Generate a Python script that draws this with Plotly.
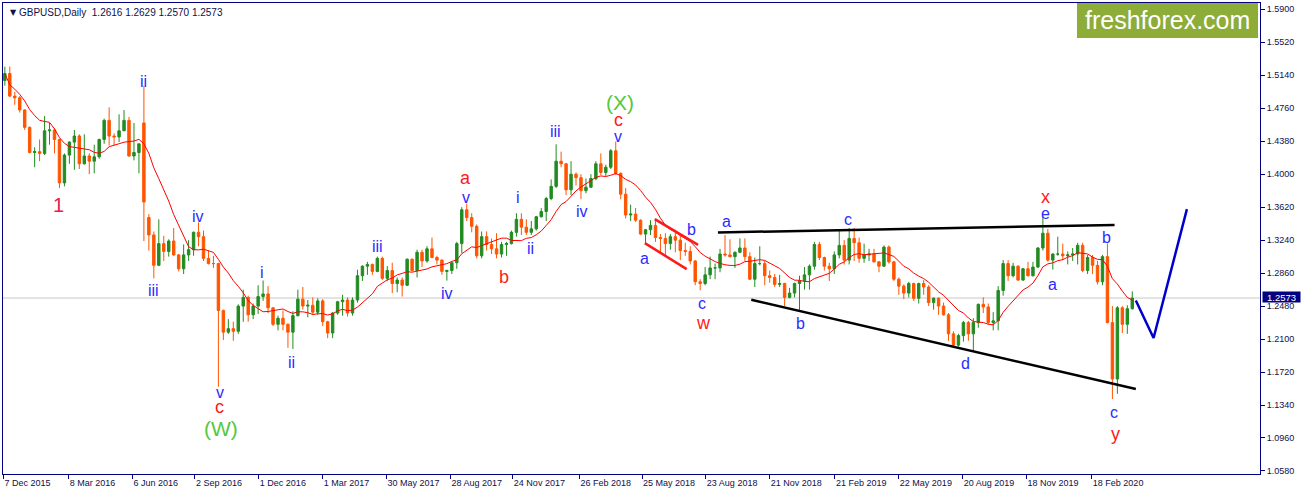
import plotly.graph_objects as go
import pandas as pd

# ---------------- data (weekly OHLC) ----------------
week_start = "2015-12-09"
opens = [1.5080,1.5160,1.4900,1.4880,1.4740,1.4540,1.4250,1.4260,1.4240,1.4500,1.4510,1.4400,
         1.3900,1.4220,1.4370,1.4440,1.4120,1.4210,1.4150,1.4200,1.4400,1.4620,1.4440,1.4430,
         1.4500,1.4620,1.4210,1.4250,1.4590,1.3500,1.3300,1.2950,1.3200,1.3110,1.3230,1.3070,
         1.2910,1.3070,1.3130,1.3330,1.3280,1.3030,1.2970,1.2970,1.2430,1.2180,1.2220,1.2190,
         1.2480,1.2580,1.2380,1.2480,1.2590,1.2620,1.2460,1.2270,1.2340,1.2270,1.2180,1.2370,
         1.2560,1.2480,1.2490,1.2410,1.2540,1.2300,1.2170,1.2400,1.2530,1.2550,1.2400,1.2550,
         1.2830,1.2940,1.2960,1.2880,1.3030,1.2800,1.2890,1.2740,1.2780,1.2720,1.3020,1.2890,
         1.3100,1.3000,1.3140,1.3040,1.3010,1.2880,1.2890,1.2980,1.3200,1.3590,1.3500,1.3400,
         1.3060,1.3280,1.3190,1.3140,1.3080,1.3190,1.3200,1.3330,1.3480,1.3390,1.3330,1.3370,
         1.3510,1.3570,1.3720,1.3860,1.4150,1.4120,1.3820,1.4000,1.3960,1.3810,1.3850,1.3950,
         1.4120,1.4020,1.4080,1.4270,1.4010,1.3770,1.3530,1.3540,1.3470,1.3310,1.3360,1.3410,
         1.3270,1.3260,1.3200,1.3280,1.3240,1.3120,1.3110,1.3000,1.2760,1.2740,1.2840,1.2920,
         1.2920,1.3080,1.3070,1.3050,1.3100,1.3150,1.3050,1.2790,1.2970,1.2970,1.2830,1.2810,
         1.2730,1.2740,1.2580,1.2630,1.2740,1.2770,1.2840,1.2940,1.3190,1.3040,1.2940,1.2910,
         1.3070,1.3180,1.3010,1.3260,1.3210,1.3030,1.3070,1.3080,1.2990,1.2940,1.3160,1.2990,
         1.2790,1.2710,1.2630,1.2740,1.2570,1.2740,1.2700,1.2520,1.2570,1.2480,1.2380,1.2160,
         1.2030,1.2140,1.2290,1.2160,1.2290,1.2500,1.2470,1.2290,1.2310,1.2660,1.2970,1.2830,
         1.2940,1.2780,1.2910,1.2830,1.2930,1.3150,1.3320,1.3010,1.3080,1.3080,1.3060,1.3070,
         1.3080,1.3180,1.2890,1.3040,1.2950,1.2760,1.3050,1.2290,1.1640,1.2460,1.2270,1.2450]
highs = [1.5240,1.5240,1.4950,1.4900,1.4750,1.4550,1.4310,1.4400,1.4670,1.4590,1.4530,1.4410,
         1.4240,1.4380,1.4510,1.4460,1.4460,1.4240,1.4340,1.4410,1.4640,1.4770,1.4470,1.4690,
         1.4740,1.4660,1.4590,1.4350,1.5020,1.3540,1.3340,1.3480,1.3290,1.3250,1.3380,1.3080,
         1.3190,1.3240,1.3340,1.3445,1.3350,1.3120,1.3060,1.2980,1.2440,1.2330,1.2300,1.2500,
         1.2670,1.2600,1.2510,1.2720,1.2775,1.2710,1.2470,1.2370,1.2430,1.2280,1.2420,1.2670,
         1.2700,1.2550,1.2580,1.2570,1.2560,1.2310,1.2410,1.2540,1.2610,1.2580,1.2580,1.2900,
         1.2950,1.2990,1.2970,1.3050,1.3050,1.2940,1.2980,1.2810,1.2810,1.3030,1.3030,1.3130,
         1.3130,1.3170,1.3270,1.3060,1.3020,1.2900,1.2990,1.3220,1.3620,1.3660,1.3550,1.3420,
         1.3340,1.3340,1.3260,1.3320,1.3220,1.3220,1.3350,1.3550,1.3550,1.3480,1.3460,1.3520,
         1.3610,1.3740,1.3940,1.4345,1.4260,1.4130,1.4150,1.4020,1.4000,1.3950,1.4000,1.4150,
         1.4240,1.4110,1.4290,1.4377,1.4020,1.3840,1.3650,1.3610,1.3480,1.3370,1.3470,1.3470,
         1.3310,1.3320,1.3310,1.3360,1.3290,1.3210,1.3170,1.3010,1.2790,1.2930,1.3050,1.2970,
         1.3140,1.3298,1.3250,1.3110,1.3260,1.3260,1.3100,1.3040,1.3170,1.3000,1.2890,1.2850,
         1.2840,1.2750,1.2690,1.2750,1.2830,1.2930,1.2960,1.3220,1.3220,1.3050,1.2980,1.3110,
         1.3350,1.3240,1.3380,1.3380,1.3270,1.3200,1.3140,1.3140,1.3000,1.3180,1.3180,1.3000,
         1.2810,1.2730,1.2760,1.2750,1.2750,1.2780,1.2720,1.2580,1.2580,1.2520,1.2400,1.2190,
         1.2160,1.2310,1.2310,1.2340,1.2510,1.2580,1.2510,1.2410,1.2710,1.3010,1.3010,1.2980,
         1.2950,1.2920,1.2990,1.2990,1.3160,1.3514,1.3370,1.3090,1.3280,1.3200,1.3110,1.3150,
         1.3210,1.3210,1.3070,1.3070,1.3000,1.3070,1.3200,1.2480,1.2480,1.2480,1.2490,1.2650]
lows = [1.5020,1.4890,1.4800,1.4710,1.4510,1.4240,1.4080,1.4150,1.4220,1.4340,1.4240,1.3840,
        1.3860,1.4120,1.4050,1.4060,1.4110,1.4000,1.4010,1.4180,1.4350,1.4330,1.4330,1.4370,
        1.4500,1.4200,1.4160,1.4010,1.3230,1.3120,1.2800,1.2940,1.3000,1.3050,1.3060,1.2880,
        1.2850,1.3000,1.3060,1.3170,1.3000,1.2960,1.2920,1.1550,1.2090,1.2160,1.2080,1.2160,
        1.2300,1.2300,1.2330,1.2390,1.2540,1.2400,1.2250,1.2200,1.2200,1.2000,1.1986,1.2360,
        1.2440,1.2350,1.2380,1.2380,1.2250,1.2110,1.2110,1.2380,1.2370,1.2360,1.2370,1.2520,
        1.2770,1.2840,1.2840,1.2870,1.2780,1.2770,1.2630,1.2640,1.2590,1.2710,1.2880,1.2810,
        1.2930,1.2980,1.3030,1.2960,1.2840,1.2774,1.2850,1.2910,1.3090,1.3460,1.3330,1.3030,
        1.3030,1.3120,1.3080,1.3030,1.3040,1.3060,1.3190,1.3280,1.3300,1.3300,1.3300,1.3350,
        1.3500,1.3460,1.3700,1.3840,1.4080,1.3760,1.3760,1.3870,1.3712,1.3780,1.3840,1.3930,
        1.3990,1.3980,1.4060,1.3990,1.3710,1.3490,1.3460,1.3450,1.3300,1.3200,1.3300,1.3220,
        1.3100,1.3050,1.3130,1.3100,1.3010,1.3060,1.2960,1.2720,1.2662,1.2720,1.2790,1.2790,
        1.2870,1.3050,1.3040,1.2920,1.3090,1.3000,1.2780,1.2700,1.2950,1.2720,1.2750,1.2700,
        1.2700,1.2480,1.2570,1.2580,1.2420,1.2670,1.2670,1.2900,1.3010,1.2890,1.2770,1.2850,
        1.3030,1.2960,1.2960,1.3000,1.2980,1.2980,1.3000,1.2980,1.2870,1.2930,1.2970,1.2770,
        1.2610,1.2560,1.2580,1.2540,1.2510,1.2610,1.2480,1.2440,1.2380,1.2370,1.2080,1.2010,
        1.2010,1.2070,1.2080,1.1959,1.2230,1.2400,1.2270,1.2200,1.2200,1.2600,1.2770,1.2810,
        1.2770,1.2770,1.2820,1.2820,1.2920,1.3120,1.2990,1.2900,1.3060,1.3010,1.2960,1.3000,
        1.2960,1.2870,1.2850,1.2850,1.2730,1.2720,1.2280,1.1409,1.1470,1.2170,1.2160,1.2440]
closes = [1.5160,1.4900,1.4880,1.4740,1.4540,1.4250,1.4260,1.4240,1.4500,1.4510,1.4400,1.3900,
          1.4220,1.4370,1.4440,1.4120,1.4210,1.4150,1.4200,1.4400,1.4620,1.4440,1.4430,1.4500,
          1.4620,1.4210,1.4250,1.4350,1.3680,1.3300,1.2950,1.3200,1.3110,1.3230,1.3070,1.2910,
          1.3070,1.3130,1.3330,1.3280,1.3030,1.2970,1.2970,1.2430,1.2180,1.2220,1.2190,1.2480,
          1.2580,1.2380,1.2480,1.2590,1.2620,1.2460,1.2270,1.2340,1.2270,1.2180,1.2370,1.2560,
          1.2480,1.2490,1.2410,1.2540,1.2300,1.2170,1.2400,1.2530,1.2550,1.2400,1.2550,1.2830,
          1.2940,1.2960,1.2880,1.3030,1.2800,1.2890,1.2740,1.2780,1.2720,1.3020,1.2890,1.3100,
          1.3000,1.3140,1.3040,1.3010,1.2880,1.2890,1.2980,1.3200,1.3590,1.3500,1.3400,1.3060,
          1.3280,1.3190,1.3140,1.3080,1.3190,1.3200,1.3330,1.3480,1.3390,1.3330,1.3370,1.3510,
          1.3570,1.3720,1.3860,1.4150,1.4120,1.3820,1.4000,1.3960,1.3810,1.3850,1.3950,1.4120,
          1.4020,1.4080,1.4270,1.4010,1.3770,1.3530,1.3540,1.3470,1.3310,1.3360,1.3410,1.3270,
          1.3260,1.3200,1.3280,1.3240,1.3120,1.3110,1.3000,1.2760,1.2740,1.2840,1.2920,1.2920,
          1.3080,1.3070,1.3050,1.3100,1.3150,1.3050,1.2790,1.2970,1.2970,1.2830,1.2810,1.2730,
          1.2740,1.2580,1.2630,1.2740,1.2770,1.2840,1.2940,1.3190,1.3040,1.2940,1.2910,1.3070,
          1.3180,1.3010,1.3260,1.3210,1.3030,1.3070,1.3080,1.2990,1.2940,1.3160,1.2990,1.2790,
          1.2710,1.2630,1.2740,1.2570,1.2740,1.2700,1.2520,1.2570,1.2480,1.2380,1.2160,1.2030,
          1.2140,1.2290,1.2160,1.2290,1.2500,1.2470,1.2290,1.2310,1.2660,1.2970,1.2830,1.2940,
          1.2780,1.2910,1.2830,1.2930,1.3150,1.3320,1.3010,1.3080,1.3080,1.3060,1.3070,1.3080,
          1.3180,1.2890,1.3040,1.2950,1.2760,1.3050,1.2290,1.1640,1.2460,1.2270,1.2450,1.2573]

last_price = 1.2573
header_text = "GBPUSD,Daily  1.2616 1.2629 1.2570 1.2573"

x_tick_dates = ["2015-12-07", "2016-03-08", "2016-06-06", "2016-09-02", "2016-12-01",
                "2017-03-01", "2017-05-30", "2017-08-28", "2017-11-24", "2018-02-26",
                "2018-05-25", "2018-08-23", "2018-11-21", "2019-02-21", "2019-05-22",
                "2019-08-20", "2019-11-18", "2020-02-18"]
x_tick_labels = ["7 Dec 2015", "8 Mar 2016", "6 Jun 2016", "2 Sep 2016", "1 Dec 2016",
                 "1 Mar 2017", "30 May 2017", "28 Aug 2017", "24 Nov 2017", "26 Feb 2018",
                 "25 May 2018", "23 Aug 2018", "21 Nov 2018", "21 Feb 2019", "22 May 2019",
                 "20 Aug 2019", "18 Nov 2019", "18 Feb 2020"]
y_tick_labels = ["1.0580", "1.0960", "1.1340", "1.1720", "1.2100", "1.2480", "1.2860",
                 "1.3240", "1.3620", "1.4000", "1.4380", "1.4760", "1.5140", "1.5520", "1.5900"]

# wave labels
label_text = ["1", "ii", "iii", "iv", "v", "c", "(W)", "i", "ii",
              "iii", "iv", "a", "v", "b", "i", "ii", "iii", "iv",
              "(X)", "c", "v", "a", "b", "c", "w", "a", "b", "c", "d",
              "x", "e", "a", "b", "c", "y"]
label_date = ["2016-02-23", "2016-06-22", "2016-07-05", "2016-09-06", "2016-10-07", "2016-10-07",
              "2016-10-08", "2016-12-05", "2017-01-16",
              "2017-05-17", "2017-08-23", "2017-09-18", "2017-09-19", "2017-11-12", "2017-12-01",
              "2017-12-19", "2018-01-23", "2018-03-01",
              "2018-04-24", "2018-04-22", "2018-04-21", "2018-05-28", "2018-08-03", "2018-08-17",
              "2018-08-19", "2018-09-21", "2019-01-04", "2019-03-11", "2019-08-24",
              "2019-12-15", "2019-12-15", "2019-12-25", "2020-03-09", "2020-03-20", "2020-03-23"]
label_price = [1.3650, 1.5074, 1.2656, 1.3514, 1.1482, 1.1322, 1.1072, 1.2870, 1.1833,
               1.3166, 1.2621, 1.3960, 1.3735, 1.2812, 1.3733, 1.3148, 1.4496, 1.3575,
               1.4828, 1.4622, 1.4432, 1.3025, 1.3368, 1.2509, 1.2280, 1.3454, 1.2280, 1.3483, 1.1824,
               1.3740, 1.3550, 1.2734, 1.3269, 1.1255, 1.1005]
label_kind = ["one", "blue", "blue", "blue", "blue", "red", "green", "blue", "blue",
              "blue", "blue", "red", "blue", "red", "blue", "blue", "blue", "blue",
              "green", "red", "blue", "blue", "blue", "blue", "red", "blue", "blue", "blue", "blue",
              "red", "blue", "blue", "blue", "blue", "red"]

# drawn lines
tri_upper_dates = ["2018-09-09", "2020-03-21"]
tri_upper_price = [1.3328, 1.3416]
tri_lower_dates = ["2018-10-26", "2020-04-20"]
tri_lower_price = [1.2553, 1.1524]
chan_upper_dates = ["2018-06-12", "2018-08-12"]
chan_upper_price = [1.3482, 1.3186]
chan_lower_dates = ["2018-05-29", "2018-07-27"]
chan_lower_price = [1.3206, 1.2906]
proj_dates = ["2020-04-20", "2020-05-15", "2020-07-01"]
proj_price = [1.2545, 1.2112, 1.3597]

# ---------------- figure ----------------
dates = pd.date_range(week_start, periods=len(closes), freq="7D")
ma = pd.Series(closes).rolling(10, min_periods=1).mean()

NAVY = "#000080"
TXT = "#10104a"
GREEN_C = "#228B22"
ORANGE_C = "#FF5500"
kind_style = {
    "blue": dict(color="#2b2bff", size=16),
    "red": dict(color="#ff1a1a", size=18),
    "green": dict(color="#55C83A", size=21),
    "one": dict(color="#E8204C", size=20),
}

fig = go.Figure()
fig.add_trace(go.Candlestick(
    x=dates, open=opens, high=highs, low=lows, close=closes,
    increasing=dict(line=dict(color=GREEN_C, width=1), fillcolor=GREEN_C),
    decreasing=dict(line=dict(color=ORANGE_C, width=1), fillcolor=ORANGE_C),
    showlegend=False, hoverinfo="skip"))
fig.add_trace(go.Scatter(x=dates, y=ma, mode="lines",
                         line=dict(color="#FF0000", width=1), showlegend=False, hoverinfo="skip"))

for xs, ys, col, w in [(tri_upper_dates, tri_upper_price, "#000000", 2.5),
                       (tri_lower_dates, tri_lower_price, "#000000", 2.5),
                       (chan_upper_dates, chan_upper_price, "#FF1A1A", 2.5),
                       (chan_lower_dates, chan_lower_price, "#FF1A1A", 2.5),
                       (proj_dates, proj_price, "#0000CC", 2.5)]:
    fig.add_trace(go.Scatter(x=xs, y=ys, mode="lines", line=dict(color=col, width=w),
                             showlegend=False, hoverinfo="skip"))

annotations = []
for t, d, p, k in zip(label_text, label_date, label_price, label_kind):
    st = kind_style[k]
    annotations.append(dict(x=d, y=p, xref="x", yref="y", text=t, showarrow=False,
                            font=dict(family="Liberation Sans", size=st["size"], color=st["color"]),
                            xanchor="center", yanchor="middle"))

# header
annotations.append(dict(xref="paper", yref="paper", x=0.004, y=0.979, xanchor="left", yanchor="middle",
                        text="▼", showarrow=False, font=dict(family="DejaVu Sans", size=8, color=TXT)))
annotations.append(dict(xref="paper", yref="paper", x=0.0115, y=0.979, xanchor="left", yanchor="middle",
                        text=header_text, showarrow=False,
                        font=dict(family="Liberation Sans", size=10, color=TXT)))
# watermark text
annotations.append(dict(xref="paper", yref="paper", x=0.9264, y=0.9635, xanchor="center", yanchor="middle",
                        text="freshforex.com", showarrow=False,
                        font=dict(family="Liberation Sans", size=25, color="#FFFFFF")))
# current price tag
annotations.append(dict(xref="paper", yref="y", x=1.0016, y=last_price, xanchor="left", yanchor="middle",
                        yshift=1, text="1.2573", showarrow=False, bgcolor=NAVY, borderpad=0,
                        width=37, height=10,
                        font=dict(family="Liberation Sans", size=9.5, color="#FFFFFF")))

shapes = [
    dict(type="line", xref="paper", yref="y", x0=0, x1=1, y0=last_price, y1=last_price,
         line=dict(color="#C8C8C8", width=1), layer="below"),
    dict(type="rect", xref="paper", yref="paper", x0=0.8544, x1=0.9984, y0=0.9257, y1=1.0,
         fillcolor="#8DAC38", line=dict(width=0), layer="above"),
]

fig.update_layout(
    width=1301, height=495,
    margin=dict(l=3, r=41, t=3, b=21),
    paper_bgcolor="#FFFFFF", plot_bgcolor="#FFFFFF",
    annotations=annotations, shapes=shapes,
    xaxis=dict(type="date", range=["2015-12-06 10:00", "2020-10-12"],
               tickvals=x_tick_dates, ticktext=x_tick_labels,
               ticks="outside", ticklen=4, tickcolor=NAVY, showline=True, linecolor=NAVY,
               linewidth=1, mirror=True, showgrid=False, zeroline=False,
               ticklabelposition="outside right",
               tickfont=dict(family="Liberation Sans", size=9, color=TXT),
               rangeslider=dict(visible=False), fixedrange=True),
    yaxis=dict(side="right", range=[1.0545, 1.5973],
               tickvals=[float(v) for v in y_tick_labels], ticktext=y_tick_labels,
               ticks="outside", ticklen=4, tickcolor=NAVY, showline=True, linecolor=NAVY,
               linewidth=1, mirror=True, showgrid=False, zeroline=False,
               tickfont=dict(family="Liberation Sans", size=9, color=TXT), fixedrange=True),
)

fig.write_html("out.html", config={"displayModeBar": False},
               post_script="document.body.style.margin='0';document.body.style.padding='0';"
                           "document.body.style.overflow='hidden';")
